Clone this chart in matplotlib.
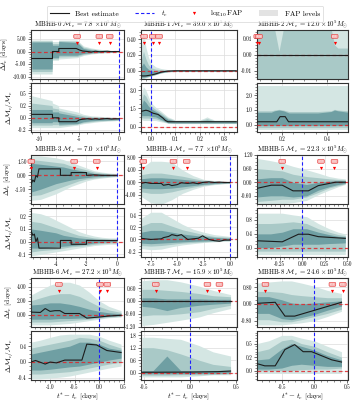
import matplotlib
matplotlib.use("Agg")
import matplotlib.pyplot as plt
import matplotlib.transforms as mtransforms
from matplotlib.lines import Line2D
from matplotlib.patches import Patch
from matplotlib.ticker import FormatStrFormatter, AutoMinorLocator

plt.rcParams['font.family'] = 'serif'
plt.rcParams['font.serif'] = ['cmr10', 'DejaVu Serif']
plt.rcParams['mathtext.fontset'] = 'cm'
plt.rcParams['axes.unicode_minus'] = False
plt.rcParams['axes.formatter.use_mathtext'] = True

# ---------------- data ----------------
names = ["MBHB-0", "MBHB-1", "MBHB-2", "MBHB-3", "MBHB-4", "MBHB-5", "MBHB-6", "MBHB-7", "MBHB-8"]
masses = ["7.8", "39.0", "12.0", "7.0", "7.7", "22.3", "27.2", "15.9", "24.6"]

xlims = [(-11.1, 0.6), (-0.04, 0.353), (0.086, 0.496), (-5.62, 0.45), (-8.42, 0.66),
         (-0.5, 0.51), (-1.39, 0.51), (-0.53, 0.51), (-0.88, 0.52)]
xticks = [[-10, -5, 0], [0.0, 0.1, 0.2, 0.3], [0.2, 0.4], [-4, -2, 0], [-7.5, -5.0, -2.5, 0.0],
          [-0.25, 0.0, 0.25, 0.5], [-1.0, -0.5, 0.0, 0.5], [-0.5, 0.0, 0.5], [-0.5, 0.0, 0.5]]
xfmts = ["%d", "%.1f", "%.1f", "%d", "%.1f", "%.2f", "%.1f", "%.1f", "%.1f"]

dt_ylims = [(-11.0, 8.6), (-0.105, 0.52), (-0.0152, 0.0152), (-3.1, 2.2), (-6.9, 8.8),
            (-0.96, 1.2), (-1.7, 5.2), (-1.22, 1.08), (-1.1, 1.24)]
dt_yticks = [[-10, -5, 0, 5], [0.0, 0.2, 0.4], [-0.01, 0.0, 0.01], [-1.5, 0.0, 1.5], [-4, 0, 4, 8],
             [-0.6, 0.0, 0.6, 1.2], [0, 2, 4], [-1.2, -0.6, 0.0, 0.6], [-0.8, 0.0, 0.8]]
dm_ylims = [(-0.29, 0.71), (-0.45, 3.6), (-0.5, 2.85), (-0.12, 0.265), (-0.29, 0.52),
            (-0.27, 1.15), (-0.45, 0.78), (-0.35, 2.0), (-0.17, 0.73)]
dm_yticks = [[-0.25, 0.0, 0.25, 0.5], [0.0, 1.5, 3.0], [0.0, 1.0, 2.0], [-0.1, 0.0, 0.1, 0.2],
             [-0.2, 0.0, 0.2, 0.4], [0.0, 0.4, 0.8], [-0.4, 0.0, 0.4], [0.0, 0.6, 1.2, 1.8],
             [0.0, 0.25, 0.5]]

# FAP marker times and labels
fap_t = [[-5.3, -2.5, -1.2], [-0.027, 0.008, 0.034], [0.087, 0.095, 0.436],
         [-5.6, -2.8, -1.33], [-8.2, -5.35, -4.1], [-0.22, 0.21, 0.36],
         [-0.82, 0.02, 0.17], [-0.37, 0.19, 0.32], [-0.75, 0.28, 0.44]]
fap_lbl = [["-2.1", "-3.4", "-4.0"], ["-1.9", "-2.6", "-3.3"], ["-1.2", "-1.5", "-2.2"],
           ["-1.7", "-2.4", "-3.1"], ["-1.4", "-2.2", "-2.9"], ["-1.6", "-2.3", "-3.0"],
           ["-1.8", "-2.5", "-3.2"], ["-1.3", "-2.0", "-2.7"], ["-1.5", "-2.1", "-2.8"]]

# ---- MBHB-0 ----
b0_x = [-11.0, -8.45, -8.4, -7.65, -7.6, -5.3, -4.5, -3.5, -2.5, -1.5, -0.5, 0.0]
b0_dt_light = ([-9.0, -9.0, -3.5, -3.5, -3.0, -2.5, -1.6, -1.0, -0.7, -0.5, -0.3, -0.2],
               [4.6, 4.6, 4.0, 4.0, 4.6, 4.6, 2.2, 1.4, 0.9, 0.6, 0.4, 0.3])
b0_dt_mid = ([-8.0, -8.0, -3.0, -3.0, -2.2, -2.0, -1.2, -0.75, -0.5, -0.35, -0.22, -0.15],
             [4.2, 4.2, 3.2, 3.2, 4.3, 4.1, 1.7, 1.0, 0.65, 0.45, 0.3, 0.22])
b0_dt_dark = ([-7.0, -7.0, -2.5, -2.5, -1.5, -1.5, -0.8, -0.5, -0.35, -0.25, -0.15, -0.1],
              [3.8, 3.8, 2.5, 2.5, 4.0, 3.6, 1.2, 0.6, 0.4, 0.3, 0.2, 0.15])
b0_dm_light = ([-0.2, -0.2, -0.2, -0.2, -0.2, -0.15, -0.12, -0.1, -0.08, -0.07, -0.06, -0.05],
               [0.45, 0.35, 0.3, 0.25, 0.2, 0.12, 0.07, 0.04, 0.03, 0.02, 0.01, 0.01])
b0_dm_mid = ([-0.15, -0.15, -0.14, -0.14, -0.16, -0.13, -0.1, -0.08, -0.065, -0.055, -0.05, -0.045],
             [0.3, 0.25, 0.2, 0.18, 0.15, 0.07, 0.04, 0.02, 0.015, 0.01, 0.0, 0.0])
b0_dm_dark = ([-0.1, -0.1, -0.08, -0.08, -0.13, -0.12, -0.08, -0.06, -0.05, -0.045, -0.04, -0.035],
              [0.17, 0.17, 0.12, 0.12, 0.1, 0.03, 0.01, 0.0, -0.005, -0.01, -0.01, -0.01])
b0_bx = [-11.0, -8.4, -8.4, -7.6, -7.6, -5.4, -5.0, -4.6, -4.0, -3.5, -3.0, -2.5, -2.0, -1.5, -1.0, -0.5, 0.0]
b0_dt = [-2.8, -2.8, 0.0, 0.0, 1.2, 1.2, 0.6, 0.2, 0.0, -0.2, 0.1, -0.1, 0.0, 0.1, -0.05, 0.0, 0.0]
b0_dm = [0.07, 0.07, 0.0, 0.0, -0.08, -0.08, -0.04, -0.03, -0.02, -0.03, -0.02, -0.03, -0.02, -0.015, -0.025, -0.02, -0.02]

# ---- MBHB-1 ----
b1_x = [-0.04, -0.03, -0.02, -0.01, 0.0, 0.02, 0.04, 0.07, 0.1, 0.2, 0.22, 0.23, 0.24, 0.26, 0.35]
b1_dt_light = ([-0.1, -0.1, -0.09, -0.08, -0.07, -0.05, -0.03, -0.015, -0.01, -0.009, -0.009, -0.009, -0.009, -0.009, -0.008],
               [0.25, 0.5, 0.3, 0.18, 0.1, 0.05, 0.03, 0.015, 0.01, 0.009, 0.009, 0.009, 0.009, 0.009, 0.008])
b1_dt_mid = ([-0.09, -0.09, -0.085, -0.075, -0.065, -0.048, -0.028, -0.012, -0.008, -0.007, -0.007, -0.007, -0.007, -0.007, -0.006],
             [0.12, 0.25, 0.15, 0.08, 0.04, 0.02, 0.015, 0.01, 0.008, 0.007, 0.007, 0.007, 0.007, 0.007, 0.006])
b1_dt_dark = ([-0.08, -0.08, -0.075, -0.07, -0.06, -0.045, -0.025, -0.01, -0.005, -0.004, -0.004, -0.004, -0.004, -0.004, -0.004],
              [0.05, 0.1, 0.05, 0.02, 0.0, -0.005, 0.0, 0.005, 0.005, 0.004, 0.004, 0.004, 0.004, 0.004, 0.004])
b1_dm_light = ([0.6, 0.5, 0.5, 0.5, 0.5, 0.5, 0.4, 0.28, 0.25, 0.25, 0.25, 0.25, 0.25, 0.25, 0.25],
               [2.5, 3.3, 3.0, 2.5, 2.0, 1.6, 1.3, 0.8, 0.55, 0.55, 0.7, 0.8, 0.7, 0.55, 0.55])
b1_dm_mid = ([0.75, 0.7, 0.7, 0.7, 0.68, 0.65, 0.5, 0.3, 0.28, 0.28, 0.28, 0.28, 0.28, 0.28, 0.28],
             [2.0, 2.7, 2.5, 2.1, 1.75, 1.4, 1.15, 0.7, 0.5, 0.5, 0.6, 0.65, 0.6, 0.5, 0.5])
b1_dm_dark = ([0.9, 0.9, 0.9, 0.9, 0.85, 0.8, 0.6, 0.32, 0.3, 0.3, 0.3, 0.3, 0.3, 0.3, 0.3],
              [1.6, 2.2, 2.0, 1.7, 1.5, 1.25, 1.0, 0.6, 0.45, 0.45, 0.5, 0.52, 0.5, 0.45, 0.45])
b1_bx = [-0.04, -0.03, -0.02, -0.01, 0.0, 0.01, 0.02, 0.03, 0.04, 0.05, 0.06, 0.07, 0.1, 0.35]
b1_dt = [-0.065, -0.066, -0.065, -0.06, -0.055, -0.048, -0.04, -0.03, -0.02, -0.013, -0.008, -0.004, 0.0, 0.0]
b1_dm = [1.25, 1.3, 1.35, 1.3, 1.2, 1.1, 1.05, 1.0, 0.85, 0.7, 0.5, 0.4, 0.4, 0.4]

# ---- MBHB-2 ----
b2_x = [0.086, 0.15, 0.165, 0.185, 0.205, 0.23, 0.26, 0.33, 0.36, 0.42, 0.435, 0.45, 0.496]
b2_dt_light = ([-0.016] * 13, [0.016] * 13)
b2_dt_mid = ([-0.016] * 13,
             [0.016, 0.016, 0.016, 0.002, 0.016, 0.016, 0.016, 0.016, 0.016, 0.016, 0.006, 0.004, 0.004])
b2_dt_dark = ([0.0] * 13, [0.0] * 13)
b2_dm_light = ([-0.35] * 13, [2.65] * 13)
b2_dm_mid = ([-0.2] * 13, [0.95, 0.95, 1.0, 1.05, 1.0, 0.9, 0.9, 0.9, 0.9, 0.95, 1.05, 1.0, 0.95])
b2_dm_dark = ([-0.05] * 13, [0.85, 0.85, 0.95, 1.0, 0.95, 0.8, 0.8, 0.8, 0.8, 0.9, 1.0, 0.95, 0.85])
b2_bx = [0.086, 0.175, 0.19, 0.213, 0.228, 0.496]
b2_dt = [0.0, 0.0, 0.0, 0.0, 0.0, 0.0]
b2_dm = [0.2, 0.2, 0.55, 0.55, 0.2, 0.2]

# ---- MBHB-3 ----
b3_x = [-5.6, -5.0, -4.5, -4.0, -3.5, -3.0, -2.5, -2.0, -1.5, -1.0, -0.5, 0.0]
b3_dt_light = ([-2.7, -2.6, -2.3, -2.0, -1.6, -1.2, -0.9, -0.6, -0.4, -0.3, -0.2, -0.15],
               [2.1, 2.1, 2.0, 1.9, 1.7, 1.4, 1.1, 0.8, 0.5, 0.35, 0.25, 0.2])
b3_dt_mid = ([-2.2, -2.1, -1.8, -1.5, -1.2, -0.9, -0.6, -0.4, -0.3, -0.2, -0.15, -0.1],
             [1.7, 1.6, 1.5, 1.4, 1.3, 1.0, 0.8, 0.6, 0.35, 0.25, 0.18, 0.12])
b3_dt_dark = ([-1.8, -1.5, -1.2, -0.9, -0.7, -0.5, -0.35, -0.25, -0.15, -0.1, -0.08, -0.05],
              [1.3, 1.2, 1.1, 1.0, 0.9, 0.7, 0.55, 0.4, 0.2, 0.15, 0.1, 0.08])
b3_dm_light = ([-0.11, -0.1, -0.09, -0.08, -0.07, -0.06, -0.05, -0.04, -0.03, -0.025, -0.02, -0.02],
               [0.23, 0.22, 0.2, 0.17, 0.14, 0.11, 0.08, 0.06, 0.045, 0.035, 0.03, 0.03])
b3_dm_mid = ([-0.08, -0.07, -0.065, -0.06, -0.05, -0.04, -0.035, -0.03, -0.02, -0.015, -0.01, -0.01],
             [0.16, 0.15, 0.13, 0.11, 0.09, 0.07, 0.05, 0.04, 0.03, 0.025, 0.02, 0.02])
b3_dm_dark = ([-0.05, -0.05, -0.045, -0.04, -0.035, -0.03, -0.025, -0.02, -0.01, -0.005, 0.0, 0.0],
              [0.1, 0.09, 0.08, 0.07, 0.05, 0.04, 0.03, 0.025, 0.02, 0.015, 0.015, 0.015])
b3_bx = [-5.6, -5.5, -5.4, -5.3, -5.2, -5.1, -3.7, -3.7, -3.0, -3.0, -2.0, -2.0, -1.5, -1.0, 0.0]
b3_dt = [-0.9, -0.5, -0.7, 0.0, -0.2, 0.7, 0.7, 0.0, 0.0, 0.3, 0.3, 0.0, 0.05, 0.0, 0.0]
b3_dm = [0.08, 0.05, 0.06, 0.0, 0.03, -0.05, -0.05, 0.01, 0.01, -0.02, -0.02, 0.01, 0.01, 0.01, 0.01]

# ---- MBHB-4 ----
b4_x = [-8.4, -7.5, -6.5, -5.5, -4.5, -3.5, -2.5, -1.5, -0.5, 0.0]
b4_dt_light = ([-4.5, -6.5, -7.0, -5.5, -3.5, -2.2, -1.2, -0.7, -0.4, -0.3],
               [4.5, 6.8, 6.8, 6.5, 4.0, 2.2, 1.0, 0.6, 0.4, 0.3])
b4_dt_mid = ([-3.0, -3.5, -3.5, -3.0, -2.2, -1.5, -0.9, -0.5, -0.3, -0.2],
             [2.5, 3.0, 3.0, 2.5, 2.0, 1.3, 0.7, 0.45, 0.3, 0.2])
b4_dt_dark = ([-1.8, -2.0, -2.0, -1.8, -1.4, -1.0, -0.6, -0.35, -0.2, -0.15],
              [1.2, 1.5, 1.5, 1.3, 1.0, 0.7, 0.45, 0.3, 0.2, 0.15])
b4_dm_light = ([-0.15, -0.17, -0.16, -0.12, -0.09, -0.07, -0.05, -0.04, -0.03, -0.03],
               [0.35, 0.45, 0.45, 0.35, 0.25, 0.17, 0.12, 0.08, 0.06, 0.05])
b4_dm_mid = ([-0.1, -0.11, -0.1, -0.08, -0.06, -0.05, -0.04, -0.03, -0.02, -0.02],
             [0.22, 0.28, 0.28, 0.22, 0.16, 0.12, 0.08, 0.05, 0.04, 0.035])
b4_dm_dark = ([-0.06, -0.07, -0.06, -0.05, -0.04, -0.03, -0.025, -0.02, -0.015, -0.01],
              [0.12, 0.15, 0.15, 0.12, 0.09, 0.07, 0.05, 0.035, 0.025, 0.02])
b4_bx = [-8.4, -8.0, -7.5, -6.5, -6.3, -5.8, -5.5, -5.0, -4.6, -4.0, -3.5, -3.0, -2.6, -2.0, -1.5, -1.0, -0.5, 0.0]
b4_dt = [-0.3, 0.0, -0.3, -0.3, -0.9, -0.6, -1.0, -0.7, -0.1, -0.3, -0.1, -0.4, 0.0, 0.2, 0.0, 0.1, 0.0, 0.0]
b4_dm = [0.02, 0.01, 0.0, 0.01, 0.03, 0.05, 0.08, 0.06, 0.08, 0.0, 0.01, 0.02, 0.06, 0.0, -0.02, -0.03, -0.01, -0.01]

# ---- MBHB-5 ----
b5_x = [-0.5, -0.35, -0.22, -0.1, 0.05, 0.18, 0.3, 0.4, 0.48]
b5_dt_light = ([-1.0, -1.0, -0.95, -0.9, -0.8, -0.55, -0.35, -0.2, -0.1],
               [1.05, 0.95, 0.85, 0.7, 0.55, 0.4, 0.25, 0.18, 0.15])
b5_dt_mid = ([-0.85, -0.8, -0.75, -0.75, -0.65, -0.45, -0.25, -0.15, -0.07],
             [0.6, 0.55, 0.5, 0.35, 0.25, 0.2, 0.15, 0.12, 0.1])
b5_dt_dark = ([-0.65, -0.6, -0.6, -0.65, -0.6, -0.35, -0.2, -0.1, -0.05],
              [0.15, 0.2, 0.2, 0.0, -0.1, 0.0, 0.05, 0.07, 0.06])
b5_dm_light = ([-0.2] * 9, [1.0, 1.0, 1.0, 0.95, 0.9, 0.7, 0.55, 0.45, 0.4])
b5_dm_mid = ([-0.1] * 9, [0.7, 0.7, 0.72, 0.75, 0.7, 0.55, 0.45, 0.38, 0.35])
b5_dm_dark = ([0.0, 0.0, 0.05, 0.1, 0.1, 0.1, 0.12, 0.13, 0.14],
              [0.4, 0.4, 0.45, 0.55, 0.55, 0.45, 0.38, 0.33, 0.32])
b5_bx_dt = [-0.5, -0.34, -0.22, -0.1, 0.07, 0.18, 0.37, 0.48]
b5_dt = [-0.27, -0.13, -0.13, -0.38, -0.38, -0.15, 0.0, 0.0]
b5_bx_dm = [-0.5, -0.22, -0.04, 0.07, 0.18, 0.48]
b5_dm = [0.2, 0.17, 0.39, 0.39, 0.32, 0.27]

# ---- MBHB-6 ----
b6_x = [-1.39, -1.2, -1.0, -0.8, -0.6, -0.4, -0.2, 0.0, 0.2, 0.45]
b6_dt_light = ([-1.4, -1.4, -1.4, -1.3, -1.2, -1.0, -0.8, -0.6, -0.4, -0.3],
               [2.8, 3.5, 4.2, 4.6, 4.6, 4.2, 3.2, 2.0, 1.2, 0.6])
b6_dt_mid = ([-1.0, -1.0, -1.0, -0.9, -0.8, -0.7, -0.6, -0.45, -0.3, -0.2],
             [2.0, 2.4, 2.8, 3.0, 3.0, 2.6, 1.9, 1.2, 0.7, 0.35])
b6_dt_dark = ([-0.6, -0.6, -0.6, -0.5, -0.5, -0.45, -0.4, -0.3, -0.2, -0.1],
              [1.4, 1.5, 1.7, 1.7, 1.5, 1.2, 0.8, 0.5, 0.3, 0.15])
b6_dm_light = ([-0.42, -0.42, -0.4, -0.38, -0.35, -0.3, -0.25, -0.2, -0.15, -0.1],
               [0.5, 0.55, 0.62, 0.68, 0.7, 0.7, 0.7, 0.65, 0.55, 0.45])
b6_dm_mid = ([-0.3, -0.3, -0.28, -0.26, -0.24, -0.2, -0.15, -0.1, -0.05, 0.0],
             [0.35, 0.4, 0.45, 0.5, 0.55, 0.62, 0.6, 0.55, 0.45, 0.35])
b6_dm_dark = ([-0.2, -0.2, -0.18, -0.15, -0.12, -0.1, -0.05, 0.0, 0.05, 0.1],
              [0.2, 0.25, 0.3, 0.35, 0.4, 0.5, 0.5, 0.45, 0.35, 0.3])
b6_bx_dt = [-1.39, -1.2, -1.1, -1.0, -0.9, -0.8, -0.7, -0.4, -0.25, 0.0, 0.2, 0.45]
b6_dt = [0.4, 0.35, 0.9, 0.5, 0.6, 0.6, 0.2, 0.2, -0.45, -0.3, -0.15, -0.05]
b6_bx_dm = [-1.39, -1.3, -1.1, -1.0, -0.87, -0.7, -0.35, -0.25, -0.05, 0.16, 0.45]
b6_dm = [0.0, 0.04, -0.05, 0.0, -0.02, 0.05, 0.05, 0.45, 0.43, 0.29, 0.24]

# ---- MBHB-7 ----
b7_x = [-0.52, -0.4, -0.25, -0.1, 0.1, 0.25, 0.44]
b7_dt_light = ([-1.15, -1.1, -1.0, -0.9, -0.75, -0.55, -0.35],
               [0.95, 1.0, 1.0, 0.9, 0.7, 0.5, 0.3])
b7_dt_mid = ([-0.7, -0.65, -0.65, -0.6, -0.5, -0.35, -0.2],
             [0.55, 0.55, 0.5, 0.45, 0.35, 0.25, 0.2])
b7_dt_dark = ([-0.25, -0.3, -0.45, -0.3, -0.2, -0.15, -0.1],
              [0.15, 0.15, 0.1, 0.1, 0.1, 0.08, 0.08])
b7_dm_light = ([-0.2, -0.2, -0.2, -0.2, -0.15, -0.1, -0.1],
               [1.7, 1.7, 1.65, 1.6, 1.3, 1.0, 0.8])
b7_dm_mid = ([-0.12, -0.12, -0.12, -0.1, -0.1, -0.08, -0.05],
             [1.2, 1.2, 1.1, 0.9, 0.6, 0.4, 0.3])
b7_dm_dark = ([-0.05, -0.05, -0.05, -0.05, -0.04, -0.03, -0.02],
              [0.1, 0.1, 0.8, 0.1, 0.1, 0.1, 0.12])
b7_bx = [-0.52, 0.0, 0.3, 0.44]
b7_dt = [0.0, 0.0, 0.0, 0.0]
b7_dm = [0.02, 0.03, 0.05, 0.08]

# ---- MBHB-8 ----
b8_x = [-0.88, -0.7, -0.5, -0.35, -0.2, 0.0, 0.2, 0.42]
b8_dt_light = ([-1.0, -1.0, -1.0, -0.95, -0.9, -0.8, -0.6, -0.35],
               [1.0, 1.05, 1.1, 1.1, 1.0, 0.85, 0.65, 0.5])
b8_dt_mid = ([-0.75, -0.75, -0.85, -0.85, -0.75, -0.6, -0.45, -0.25],
             [0.6, 0.6, 0.55, 0.45, 0.4, 0.35, 0.3, 0.3])
b8_dt_dark = ([-0.45, -0.45, -0.7, -0.75, -0.65, -0.5, -0.3, -0.1],
              [0.35, 0.35, 0.2, 0.05, 0.0, 0.05, 0.1, 0.15])
b8_dm_light = ([-0.05] * 8, [0.5, 0.55, 0.65, 0.65, 0.6, 0.55, 0.45, 0.35])
b8_dm_mid = ([0.0, 0.0, 0.0, 0.0, 0.02, 0.03, 0.03, 0.05],
             [0.35, 0.4, 0.55, 0.58, 0.5, 0.45, 0.35, 0.25])
b8_dm_dark = ([0.03, 0.03, 0.05, 0.1, 0.12, 0.1, 0.08, 0.08],
              [0.2, 0.22, 0.4, 0.5, 0.45, 0.38, 0.28, 0.2])
b8_bx_dt = [-0.88, -0.6, -0.45, -0.3, 0.42]
b8_dt = [0.03, 0.08, -0.58, -0.58, 0.08]
b8_bx_dm = [-0.88, -0.76, -0.6, -0.45, -0.3, -0.17, -0.04, 0.27, 0.42]
b8_dm = [0.13, 0.09, 0.09, 0.39, 0.48, 0.35, 0.35, 0.2, 0.16]

band_x = [b0_x, b1_x, b2_x, b3_x, b4_x, b5_x, b6_x, b7_x, b8_x]
dt_bands = [(b0_dt_light, b0_dt_mid, b0_dt_dark), (b1_dt_light, b1_dt_mid, b1_dt_dark),
            (b2_dt_light, b2_dt_mid, b2_dt_dark), (b3_dt_light, b3_dt_mid, b3_dt_dark),
            (b4_dt_light, b4_dt_mid, b4_dt_dark), (b5_dt_light, b5_dt_mid, b5_dt_dark),
            (b6_dt_light, b6_dt_mid, b6_dt_dark), (b7_dt_light, b7_dt_mid, b7_dt_dark),
            (b8_dt_light, b8_dt_mid, b8_dt_dark)]
dm_bands = [(b0_dm_light, b0_dm_mid, b0_dm_dark), (b1_dm_light, b1_dm_mid, b1_dm_dark),
            (b2_dm_light, b2_dm_mid, b2_dm_dark), (b3_dm_light, b3_dm_mid, b3_dm_dark),
            (b4_dm_light, b4_dm_mid, b4_dm_dark), (b5_dm_light, b5_dm_mid, b5_dm_dark),
            (b6_dm_light, b6_dm_mid, b6_dm_dark), (b7_dm_light, b7_dm_mid, b7_dm_dark),
            (b8_dm_light, b8_dm_mid, b8_dm_dark)]
dt_best = [(b0_bx, b0_dt), (b1_bx, b1_dt), (b2_bx, b2_dt), (b3_bx, b3_dt), (b4_bx, b4_dt),
           (b5_bx_dt, b5_dt), (b6_bx_dt, b6_dt), (b7_bx, b7_dt), (b8_bx_dt, b8_dt)]
dm_best = [(b0_bx, b0_dm), (b1_bx, b1_dm), (b2_bx, b2_dm), (b3_bx, b3_dm), (b4_bx, b4_dm),
           (b5_bx_dm, b5_dm), (b6_bx_dm, b6_dm), (b7_bx, b7_dm), (b8_bx_dm, b8_dm)]

# ---------------- style ----------------
band_colors = ['#d4e6e3', '#a9c9c7', '#6f9fa3']
W, H = 357, 404
col_px = [(31, 93), (141, 96), (257, 91)]
row_px = [(30, 83), (155, 208), (278, 331)]
PH = 49
TICK_FS = 3.8
BLUE = '#1f1fff'

fig = plt.figure(figsize=(W / 100, H / 100), dpi=100)


def add_ax(left, top, w, h):
    return fig.add_axes([left / W, 1 - (top + h) / H, w / W, h / H])


def style_ax(ax):
    for s in ax.spines.values():
        s.set_color('#333333')
        s.set_linewidth(0.8)
    ax.grid(True, color='#dcdcdc', lw=0.5, zorder=0)
    ax.set_axisbelow(True)
    ax.xaxis.set_minor_locator(AutoMinorLocator())
    ax.yaxis.set_minor_locator(AutoMinorLocator())
    ax.tick_params(which='major', length=2.0, width=0.5, labelsize=TICK_FS, pad=1.2, color='#333333')
    ax.tick_params(which='minor', length=1.1, width=0.4, color='#333333')


def draw(ax, i, bands, best, ylim, yticks, yfmt, markers):
    xb = band_x[i]
    for (lo, hi), c in zip(bands, band_colors):
        ax.fill_between(xb, lo, hi, color=c, lw=0, zorder=1)
    ax.axhline(0, color='#e0262a', ls=(0, (3, 2)), lw=0.9, alpha=0.85, zorder=3)
    ax.axvline(0, color=BLUE, ls=(0, (3, 2)), lw=0.8, zorder=3)
    ax.plot(best[0], best[1], color='#1c1c1c', lw=0.8, zorder=4)
    ax.set_xlim(*xlims[i])
    ax.set_ylim(*ylim)
    ax.set_yticks(yticks)
    ax.yaxis.set_major_formatter(FormatStrFormatter(yfmt))
    ax.set_xticks(xticks[i])
    style_ax(ax)
    if markers:
        tr = mtransforms.blended_transform_factory(ax.transData, ax.transAxes)
        for t, lbl in zip(fap_t[i], fap_lbl[i]):
            ax.plot([t], [0.73], marker='v', color='red', ms=2.3, mew=0, transform=tr,
                    zorder=6, clip_on=False)
            ax.text(t, 0.87, lbl, transform=tr, fontsize=2.2, color='white', ha='center',
                    va='center', zorder=7,
                    bbox=dict(boxstyle='round,pad=0.3', fc='#f7b9b9', ec='#e53030', lw=0.4))


for i in range(9):
    r, c = divmod(i, 3)
    left, w = col_px[c]
    top_t, top_b = row_px[r]
    ax1 = add_ax(left, top_t, w, PH)
    ax2 = add_ax(left, top_b, w, PH)
    draw(ax1, i, dt_bands[i], dt_best[i], dt_ylims[i], dt_yticks[i], "%.2f", True)
    draw(ax2, i, dm_bands[i], dm_best[i], dm_ylims[i], dm_yticks[i], "%.1f", False)
    ax1.tick_params(labelbottom=False)
    ax2.xaxis.set_major_formatter(FormatStrFormatter(xfmts[i]))
    ax1.set_title(names[i] + r" $\mathcal{M}_c$ = " + masses[i] + r" $\times10^5 M_{\odot}$",
                  fontsize=4.9, pad=2.5)
    if c == 0:
        ax1.set_ylabel(r"$\Delta t_c$ [days]", fontsize=5.3, labelpad=2)
        ax2.set_ylabel(r"$\Delta \mathcal{M}_c/\mathcal{M}_c$", fontsize=5.3, labelpad=2)
    if r == 2:
        ax2.set_xlabel(r"$t^{*} - t_c$ [days]", fontsize=5.4, labelpad=0.3)

handles = [Line2D([], [], color='#1c1c1c', lw=0.8),
           Line2D([], [], color=BLUE, lw=0.8, ls=(0, (3, 2))),
           Line2D([], [], color='red', marker='v', ls='none', ms=2.3, mew=0),
           Patch(facecolor='#e3e3e3', edgecolor='none')]
labels = ["Best estimate", r"$t_c$", r"$\log_{10}$FAP", "FAP levels"]
leg = fig.legend(handles, labels, loc='upper center', bbox_to_anchor=(0.518, 0.995), ncol=4,
                 fontsize=5.3, frameon=True, fancybox=True, handlelength=2.6, columnspacing=2.2,
                 handletextpad=0.9, borderpad=0.4)
leg.get_frame().set_linewidth(0.5)
leg.get_frame().set_edgecolor('#cccccc')

fig.savefig("out.png", dpi=100)
